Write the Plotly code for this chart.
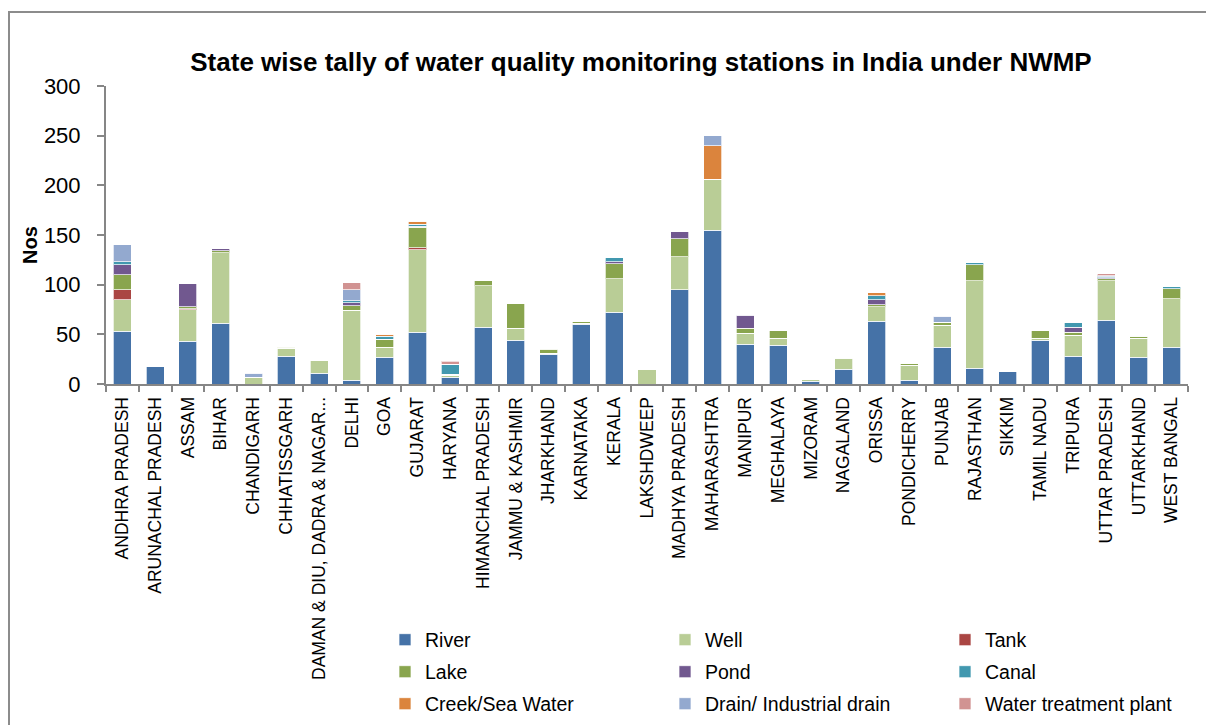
import plotly.graph_objects as go

states = ["ANDHRA PRADESH", "ARUNACHAL PRADESH", "ASSAM", "BIHAR", "CHANDIGARH",
          "CHHATISSGARH", "DAMAN & DIU, DADRA & NAGAR...", "DELHI", "GOA", "GUJARAT",
          "HARYANA", "HIMANCHAL PRADESH", "JAMMU & KASHMIR", "JHARKHAND", "KARNATAKA",
          "KERALA", "LAKSHDWEEP", "MADHYA PRADESH", "MAHARASHTRA", "MANIPUR",
          "MEGHALAYA", "MIZORAM", "NAGALAND", "ORISSA", "PONDICHERRY", "PUNJAB",
          "RAJASTHAN", "SIKKIM", "TAMIL NADU", "TRIPURA", "UTTAR PRADESH",
          "UTTARKHAND", "WEST BANGAL"]

river = [53, 18, 43, 61, 0, 28, 11, 4, 27, 52, 7, 57, 44, 30, 60, 72, 0, 95, 155, 40,
         39, 3, 15, 63, 4, 37, 16, 13, 44, 28, 64, 27, 37]
well = [32, 0, 32, 71, 7, 8, 13, 70, 10, 83, 2, 42, 12, 1, 1, 34, 15, 33, 51, 11,
        7, 2, 11, 15, 15, 22, 88, 0, 2, 21, 40, 19, 49]
tank = [10, 0, 1, 0, 0, 0, 0, 0, 0, 2, 0, 0, 0, 0, 0, 0, 0, 0, 0, 0,
        0, 0, 0, 0, 0, 0, 0, 0, 0, 0, 0, 0, 0]
lake = [15, 0, 2, 2, 0, 1, 0, 5, 8, 21, 1, 5, 25, 4, 2, 15, 0, 18, 0, 5,
        8, 0, 1, 2, 2, 3, 16, 0, 8, 3, 2, 2, 10]
pond = [10, 0, 23, 2, 0, 1, 0, 3, 0, 1, 0, 0, 0, 1, 0, 2, 1, 8, 0, 13,
        0, 0, 0, 5, 0, 0, 0, 0, 0, 5, 1, 0, 0]
canal = [3, 0, 0, 0, 0, 0, 0, 2, 3, 2, 10, 0, 0, 0, 0, 4, 0, 0, 0, 1,
         0, 0, 0, 4, 0, 0, 2, 0, 0, 5, 1, 1, 2]
creek = [0, 0, 0, 0, 0, 0, 0, 0, 2, 3, 0, 0, 0, 0, 0, 0, 0, 0, 34, 0,
         0, 0, 0, 3, 0, 0, 0, 0, 0, 0, 0, 0, 0]
drain = [17, 0, 0, 0, 4, 0, 0, 11, 0, 0, 0, 0, 0, 0, 0, 0, 0, 0, 10, 0,
         0, 0, 0, 0, 0, 6, 0, 0, 0, 0, 1, 0, 0]
wtp = [0, 0, 0, 0, 0, 0, 0, 7, 0, 0, 3, 0, 0, 0, 0, 0, 0, 0, 0, 0,
       0, 0, 0, 0, 0, 0, 0, 0, 0, 0, 2, 0, 0]

series_names = ["River", "Well", "Tank", "Lake", "Pond", "Canal",
                "Creek/Sea Water", "Drain/ Industrial drain", "Water treatment plant"]
series_values = [river, well, tank, lake, pond, canal, creek, drain, wtp]
colors = ["#4572A7", "#B9CD96", "#AA4643", "#89A54E", "#71588F", "#4198AF",
          "#DB843D", "#93A9CF", "#D19392"]

FONT = "Liberation Sans, Arial, sans-serif"
legend_ids = ["legend", "legend2", "legend3"]

fig = go.Figure()
for i, (name, vals, col) in enumerate(zip(series_names, series_values, colors)):
    fig.add_trace(go.Bar(x=states, y=vals, name=name, legend=legend_ids[i // 3],
                         marker=dict(color=col, line=dict(color="rgba(255,255,255,0.7)", width=1))))

W, H = 1206, 725
L, R, T, B = 106, 18, 86, 341
pw, ph = W - L - R, H - T - B

def leg(ycenter):
    return dict(orientation="h", x=(385 - L) / pw, xanchor="left",
                y=(H - B - ycenter) / ph, yanchor="middle",
                entrywidth=235, entrywidthmode="pixels",
                font=dict(size=19.5, family=FONT, color="black"), traceorder="normal",
                itemclick=False, itemdoubleclick=False, bgcolor="rgba(0,0,0,0)")

fig.update_layout(
    barmode="stack",
    bargap=0.45,
    width=W, height=H,
    margin=dict(l=L, r=R, t=T, b=B, autoexpand=False),
    paper_bgcolor="white", plot_bgcolor="white",
    font=dict(family=FONT, color="black"),
    title=dict(text="<b>State wise tally of water quality monitoring stations in India under NWMP</b>",
               font=dict(size=26, family=FONT, color="black"),
               x=641 / W, xanchor="center", y=1 - 62 / H, yanchor="middle", yref="container"),
    xaxis=dict(showline=True, linecolor="#868686", linewidth=2, ticks="outside",
               tickson="boundaries", ticklen=6, tickcolor="#868686", tickwidth=2,
               tickangle=-90, tickfont=dict(size=17.5, family=FONT), showgrid=False,
               ticklabelstandoff=4),
    yaxis=dict(range=[0, 300], dtick=50, showline=True, linecolor="#868686", linewidth=2,
               ticks="outside", ticklen=7, tickcolor="#868686", tickwidth=2,
               tickfont=dict(size=22, family=FONT), showgrid=False, zeroline=False,
               ticklabelstandoff=12),
    legend=leg(640),
    legend2=leg(672),
    legend3=leg(704),
    annotations=[dict(text="<b>Nos</b>", xref="paper", yref="paper",
                      x=(30 - L) / pw, y=(H - B - 245) / ph, xanchor="center", yanchor="middle",
                      textangle=-90, showarrow=False, font=dict(size=20, family=FONT, color="black"))],
    shapes=[dict(type="rect", xref="paper", yref="paper",
                 x0=(9 - L) / pw, x1=(W + 20 - L) / pw,
                 y0=(H - B - (H + 20)) / ph, y1=(H - B - 12) / ph,
                 line=dict(color="#8c8c8c", width=2), fillcolor="rgba(0,0,0,0)", layer="below")],
)

fig.write_html("out.html", config={"displayModeBar": False},
               post_script="document.body.style.margin='0';document.body.style.overflow='hidden';")
